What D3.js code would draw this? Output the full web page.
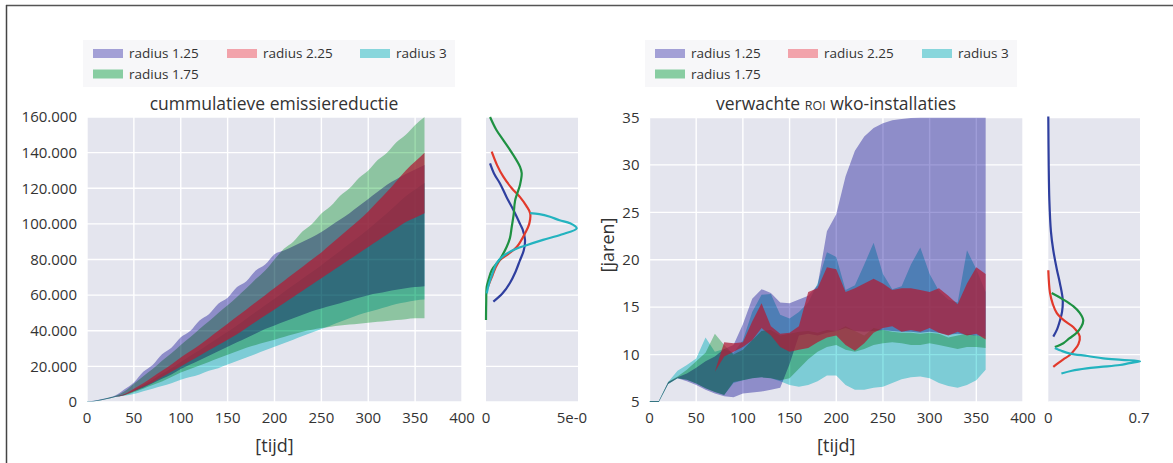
<!DOCTYPE html>
<html><head><meta charset="utf-8">
<script src="https://cdn.jsdelivr.net/npm/d3@7"></script>
<style>
body{margin:0;background:#fff;}
text{font-family:'Open Sans','DejaVu Sans',sans-serif;fill:#333;}
</style></head>
<body><svg id="c" width="1173" height="463"></svg>
<script>
// ---------- DATA ----------
const seriesNames = ["radius 1.25","radius 1.75","radius 2.25","radius 3"];
const tLeft = [0,10,20,30,40,50,60,70,80,90,100,110,120,130,140,150,160,170,180,190,200,210,220,230,240,250,260,270,280,290,300,310,320,330,340,350,360];
const tRight = tLeft;
// cumulative emission reduction, in thousands
const emisHi125 = [0.2,1.0,2.1,3.6,7.2,11.0,17.0,20.8,26.8,30.5,36.3,39.8,45.8,49.3,55.2,58.5,64.5,67.8,73.8,77.2,83.0,85.0,87.5,90.0,92.5,95.5,99.0,102.5,106.0,110.0,114.0,118.0,122.0,125.0,128.0,130.5,133.0];
const emisLo125 = [0,0.6,1.5,2.8,4.0,6.0,8.0,10.5,13.0,15.5,18.5,21.0,23.5,26.0,28.5,31.0,33.5,36.0,38.5,41.0,43.0,45.0,47.0,49.0,51.0,52.5,54.0,55.5,57.0,58.5,60.0,61.0,62.0,63.0,63.8,64.5,65.0];
const emisHi175 = [0.1,0.9,2.0,3.3,6.0,10.3,14.5,18.5,23.2,27.3,32.0,36.3,41.0,45.3,50.0,54.3,59.0,63.8,69.0,73.8,80.0,86.0,90.0,95.8,100.0,105.8,110.0,115.8,120.0,125.8,130.0,135.8,140.0,145.8,150.0,155.5,160.0];
const emisLo175 = [0,0.6,1.5,2.8,3.8,5.5,7.5,9.5,11.5,14.0,16.5,18.5,20.5,22.5,24.5,26.5,28.5,30.5,32.0,33.5,35.0,36.5,38.0,39.5,40.5,41.5,42.3,43.0,43.5,44.0,44.5,45.0,45.5,46.0,46.5,47.0,47.0];
const emisHi225 = [0,0.6,1.5,2.8,4.5,7.5,10.5,14.0,17.5,21.0,25.0,28.5,32.0,36.0,40.0,44.0,48.0,52.0,56.0,60.0,64.0,68.0,72.0,76.0,80.0,84.0,88.5,93.0,97.5,102.0,107.0,112.5,118.0,124.0,130.0,135.0,140.0];
const emisLo225 = [0,0.6,1.5,2.8,4.0,6.0,8.5,11.0,14.0,17.0,20.0,23.0,26.0,29.0,32.0,35.0,38.0,41.5,45.0,48.5,52.0,55.5,59.0,62.5,66.0,69.5,73.0,76.5,80.0,83.5,87.0,90.5,94.0,97.5,101.0,103.5,106.0];
const emisHi3 = [0.1,0.9,1.9,3.2,4.3,6.8,9.5,12.5,15.8,19.0,22.5,25.8,29.0,32.5,36.0,39.5,43.0,46.8,50.5,54.3,58.0,61.8,65.5,69.3,73.0,76.8,80.8,84.8,88.8,92.8,97.0,101.5,106.0,110.8,115.5,119.3,123.0];
const emisLo3 = [0,0.6,1.5,2.8,3.5,4.5,6.0,7.5,9.0,10.5,12.5,14.0,15.5,17.5,19.0,21.0,23.0,25.0,27.0,29.0,31.0,33.0,35.0,37.0,39.0,41.0,43.0,45.0,47.0,49.0,50.5,52.0,53.5,55.0,56.0,57.0,57.5];
// expected ROI (years)
const roiHi125 = [5.1,5.1,7.1,7.6,8.0,8.6,9.3,9.8,10.6,11.0,13.2,15.9,16.9,16.5,15.5,15.4,15.8,16.2,17.3,23.0,24.8,28.8,31.5,33.0,33.9,34.4,34.7,34.85,34.95,35,35,35,35,35,35,35,35];
const roiLo125 = [5,5,6.9,7.5,7.2,6.8,6.3,5.9,5.6,5.5,5.9,6.0,6.1,6.3,6.5,9.0,12.0,12.2,12.0,12.3,12.5,12.8,12.5,12.4,12.5,12.6,12.5,12.4,12.4,12.3,12.4,12.3,12.1,12.2,12.1,12.0,11.9];
const roiHi175 = [5.1,5.1,7.1,7.7,8.4,9.3,10.2,12.2,11.0,10.0,10.5,11.5,12.5,12.6,12.0,12.2,12.4,12.5,12.3,12.6,12.5,13.0,12.5,12.0,12.8,12.6,12.4,12.3,12.3,12.2,12.3,12.2,11.8,12.0,12.2,12.0,11.9];
const roiLo175 = [5,5,6.9,7.5,7.35,6.95,6.45,6.05,5.75,7.1,7.3,7.5,7.6,7.5,7.3,7.5,8.5,9.5,10.3,10.8,11.0,10.5,10.3,10.6,11.0,11.2,11.3,11.2,11.0,11.0,11.2,11.0,10.8,10.6,10.8,10.8,10.7];
const roiHi225 = [5,5,6.9,7.5,7.5,7.6,7.8,8.2,11.3,11.2,11.3,13.5,15.4,13.0,12.2,12.3,13.0,16.6,17.0,19.2,19.0,16.6,17.0,17.5,18.0,17.5,16.8,17.0,17.0,16.8,16.6,17.0,16.2,15.3,17.5,19.2,18.5];
const roiLo225 = [5,5,6.9,7.5,7.5,7.6,7.8,8.2,9.8,10.3,10.8,11.5,12.8,12.0,10.8,10.3,10.5,10.7,11.3,11.8,12.0,11.0,10.4,11.2,12.3,12.8,13.0,12.4,12.6,12.4,12.8,12.3,12.0,12.4,12.0,12.2,11.6];
const roiHi3 = [5.1,5.1,7.1,8.3,8.9,9.6,11.8,10.3,10.6,10.2,11.5,14.5,16.3,16.4,14.2,13.8,14.5,15.5,17.5,20.8,20.3,16.8,17.3,19.5,21.8,18.5,16.9,17.2,19.5,21.3,18.5,16.7,15.8,15.5,21.0,19.0,16.6];
const roiLo3 = [5,5,6.9,7.5,7.35,6.95,6.45,6.05,5.75,7.0,7.3,7.5,7.6,7.5,7.2,6.8,6.6,6.8,7.2,7.8,7.8,6.8,6.3,6.3,6.5,6.6,7.0,7.4,7.6,7.7,7.5,7.0,6.7,6.5,6.8,7.3,8.4];
// densities of final values: [value, density]
const kdeEmis125 = [[134,0.22],[128,0.45],[122.7,0.76],[115,1.12],[107.8,1.49],[100,1.85],[96.6,2.0],[91,2.12],[85,2.05],[79.7,1.85],[73,1.6],[66.8,1.3],[61,0.9],[56.3,0.4]];
const kdeEmis175 = [[160,0.22],[153,0.55],[147,0.94],[140,1.4],[132,1.85],[128.5,1.94],[122,1.85],[113,1.58],[105,1.5],[98.4,1.4],[92,1.3],[87,1.12],[80,0.75],[74,0.31],[68,0.12],[64.7,0.04],[55,0.01],[46,0.0]];
const kdeEmis225 = [[140.5,0.31],[133,0.6],[126.5,0.94],[120,1.4],[115,1.85],[110,2.2],[106,2.4],[100,2.35],[94.7,2.12],[87,1.67],[83,1.2],[79.7,0.76],[75,0.5],[70,0.31],[64.7,0.1]];
const kdeEmis3 = [[61,0.04],[66,0.15],[72,0.35],[78,0.58],[82,0.95],[85.3,1.49],[88,2.2],[91,3.1],[94,4.1],[97.5,4.93],[100.3,4.57],[102,4.0],[104,3.48],[105.5,2.9],[106,2.4]];
const kdeRoi125 = [[35.1,0],[30,0.003],[26.3,0.008],[23,0.02],[21,0.038],[19,0.065],[17.5,0.089],[15.8,0.11],[14.5,0.105],[13.6,0.089],[12.6,0.065],[11.9,0.038]];
const kdeRoi175 = [[16.5,0.026],[15.8,0.115],[15.1,0.19],[14.4,0.24],[13.6,0.267],[12.9,0.25],[12.3,0.217],[11.7,0.16],[11.2,0.115],[10.8,0.05]];
const kdeRoi225 = [[18.9,0],[16.5,0.013],[15.3,0.035],[14.4,0.064],[13.6,0.12],[12.9,0.19],[11.9,0.24],[11.1,0.23],[10.5,0.2],[9.9,0.16],[9.5,0.115],[9.1,0.075],[8.7,0.038]];
const kdeRoi3 = [[10.7,0.05],[10.4,0.1],[10.1,0.166],[9.85,0.3],[9.6,0.42],[9.45,0.56],[9.3,0.7],[9.1,0.62],[8.9,0.547],[8.7,0.4],[8.55,0.293],[8.3,0.18],[8.0,0.1]];
const xTicks = [0,50,100,150,200,250,300,350,400];
const emisTicks = [0,20,40,60,80,100,120,140,160];
const roiTicks = [5,10,15,20,25,30,35];

// ---------- STYLE ----------
const bg = "#e4e5ee";
const fillMul = {P:"#9f9dd8", G:"#9edbad", C:"#8ce3e6"};
const redFill = "#af1e37";
const legendCol = {P:"#a3a0d6", G:"#88cda2", R:"#f2a3ab", C:"#88d6dc"};
const lineCol = {P:"#2f3f9f", G:"#1e9142", R:"#e2392b", C:"#23b3bf"};

const svg = d3.select("#c");
svg.append("rect").attr("width",1173).attr("height",463).attr("fill","#fff");
svg.append("line").attr("x1",6).attr("x2",1173).attr("y1",5.5).attr("y2",5.5).attr("stroke","#555").attr("stroke-width",1.5);
svg.append("line").attr("x1",6.5).attr("x2",6.5).attr("y1",5).attr("y2",463).attr("stroke","#444").attr("stroke-width",1.5);

let clipId = 0;
function mainPanel(o){
  const x = d3.scaleLinear().domain([0,400]).range([o.x0,o.x1]);
  const y = d3.scaleLinear().domain(o.yDom).range([402,o.yTop]);
  const id = "clip"+(clipId++);
  svg.append("clipPath").attr("id",id).append("rect")
    .attr("x",o.x0).attr("y",o.yTop).attr("width",o.x1-o.x0).attr("height",402-o.yTop);
  const g = svg.append("g").style("isolation","isolate").attr("clip-path",`url(#${id})`);
  g.append("rect").attr("x",o.x0).attr("y",o.yTop).attr("width",o.x1-o.x0).attr("height",402-o.yTop).attr("fill",bg);
  g.selectAll(".gx").data(xTicks).join("line").attr("x1",d=>x(d)).attr("x2",d=>x(d))
    .attr("y1",o.yTop).attr("y2",402).attr("stroke","#fff").attr("stroke-width",1.4);
  g.selectAll(".gy").data(o.yTicks).join("line").attr("y1",d=>y(d)).attr("y2",d=>y(d))
    .attr("x1",o.x0).attr("x2",o.x1).attr("stroke","#fff").attr("stroke-width",1.4);
  const area = (lo,hi)=>d3.area().x((d,i)=>x(o.t[i])).y0((d,i)=>y(lo[i])).y1((d,i)=>y(hi[i])).curve(o.curve)(o.t);
  o.bands.forEach(b=>{
    const p = g.append("path").attr("d",area(b.lo,b.hi));
    if(b.key==="R"){ p.attr("fill",redFill).attr("fill-opacity",0.75); }
    else { p.attr("fill",fillMul[b.key]).style("mix-blend-mode","multiply"); }
  });
  svg.append("g").selectAll("text").data(xTicks).join("text")
    .attr("x",d=>x(d)).attr("y",423).attr("text-anchor","middle").attr("font-size",15).text(d=>d);
  svg.append("g").selectAll("text").data(o.yTicks).join("text")
    .attr("x",o.x0-10).attr("y",d=>y(d)).attr("dy","0.35em").attr("text-anchor","end").attr("font-size",15).text(o.fmt);
  svg.append("text").attr("x",(o.x0+o.x1)/2).attr("y",452).attr("text-anchor","middle").attr("font-size",18).text("[tijd]");
  return y;
}
function densPanel(o){
  const x = d3.scaleLinear().domain([0,o.max]).range([o.x0,o.x1]);
  const y = o.y;
  svg.append("rect").attr("x",o.x0).attr("y",o.yTop).attr("width",o.x1-o.x0).attr("height",402-o.yTop).attr("fill",bg);
  svg.append("g").selectAll("line").data(o.yTicks).join("line").attr("y1",d=>y(d)).attr("y2",d=>y(d))
    .attr("x1",o.x0).attr("x2",o.x1).attr("stroke","#fff").attr("stroke-width",1.4);
  const line = d3.line().x(d=>x(d[1])).y(d=>y(d[0])).curve(d3.curveCatmullRom);
  o.curves.forEach(c=>{
    svg.append("path").attr("d",line(c.pts)).attr("fill","none").attr("stroke",lineCol[c.key]).attr("stroke-width",2.2);
  });
  svg.append("text").attr("x",o.x0).attr("y",423).attr("text-anchor","middle").attr("font-size",15).text("0");
  svg.append("text").attr("x",o.maxLabelX).attr("y",423).attr("text-anchor","middle").attr("font-size",15).text(o.maxLabel);
}
function legend(o){
  svg.append("rect").attr("x",o.x-10).attr("y",40).attr("width",372).attr("height",47).attr("fill","#f7f7f9");
  const items = [
    {k:"P",n:seriesNames[0],dx:0,row:0},{k:"G",n:seriesNames[1],dx:0,row:1},
    {k:"R",n:seriesNames[2],dx:o.c2,row:0},{k:"C",n:seriesNames[3],dx:o.c3,row:0}];
  items.forEach(it=>{
    const yy = 49 + it.row*20.5;
    svg.append("rect").attr("x",o.x+it.dx).attr("y",yy).attr("width",30).attr("height",9).attr("fill",legendCol[it.k]);
    svg.append("text").attr("x",o.x+it.dx+36).attr("y",yy+9).attr("font-size",13.5).text(it.n);
  });
}

// ---------- LEFT ----------
const yL = mainPanel({x0:87,x1:462,yTop:117,yDom:[0,160],yTicks:emisTicks,t:tLeft,curve:d3.curveMonotoneX,
  fmt:d=>d===0?"0":d3.format(",")(d*1000).replace(/,/g,"."),
  bands:[{key:"P",lo:emisLo125,hi:emisHi125},{key:"G",lo:emisLo175,hi:emisHi175},
         {key:"C",lo:emisLo3,hi:emisHi3},{key:"R",lo:emisLo225,hi:emisHi225}]});
densPanel({x0:486,x1:578,yTop:117,y:yL,yTicks:emisTicks,max:5,maxLabel:"5e-0",maxLabelX:572,
  curves:[{key:"P",pts:kdeEmis125},{key:"R",pts:kdeEmis225},{key:"G",pts:kdeEmis175},{key:"C",pts:kdeEmis3}]});
svg.append("text").attr("x",274).attr("y",110).attr("text-anchor","middle").attr("font-size",17.5).text("cummulatieve emissiereductie");
legend({x:93,c2:134,c3:267});

// ---------- RIGHT ----------
const yR = mainPanel({x0:649.5,x1:1023,yTop:117.5,yDom:[5,35],yTicks:roiTicks,t:tRight,curve:d3.curveLinear,
  fmt:d=>d,
  bands:[{key:"P",lo:roiLo125,hi:roiHi125},{key:"G",lo:roiLo175,hi:roiHi175},
         {key:"C",lo:roiLo3,hi:roiHi3},{key:"R",lo:roiLo225,hi:roiHi225}]});
densPanel({x0:1048.3,x1:1140,yTop:117.5,y:yR,yTicks:roiTicks,max:0.7,maxLabel:"0.7",maxLabelX:1139,
  curves:[{key:"P",pts:kdeRoi125},{key:"R",pts:kdeRoi225},{key:"G",pts:kdeRoi175},{key:"C",pts:kdeRoi3}]});
const tt = svg.append("text").attr("x",836).attr("y",110).attr("text-anchor","middle").attr("font-size",17.5);
tt.append("tspan").text("verwachte ");
tt.append("tspan").attr("font-size",12.5).text("ROI");
tt.append("tspan").text(" wko-installaties");
svg.append("text").attr("transform","translate(614,245) rotate(-90)").attr("text-anchor","middle").attr("font-size",18).text("[jaren]");
legend({x:655,c2:133,c3:267});
</script></body></html>
